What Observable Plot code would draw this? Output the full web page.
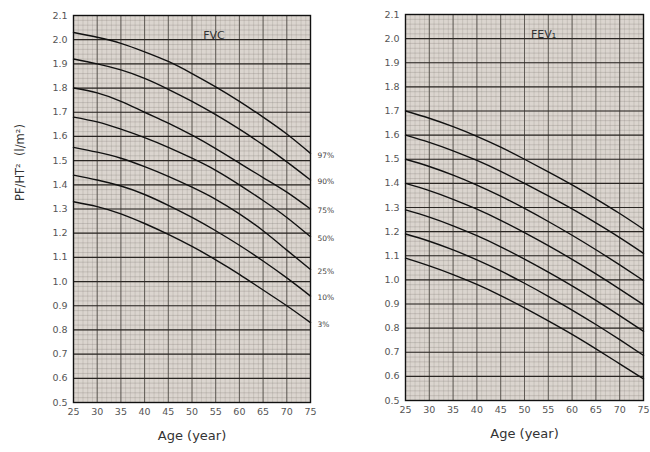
<!DOCTYPE html>
<html>
<head>
<meta charset="utf-8">
<script src="https://cdn.jsdelivr.net/npm/d3@7"></script>
<script src="https://cdn.jsdelivr.net/npm/@observablehq/plot@0.6"></script>
<style>
  body { margin: 0; background: #fff; }
  #wrap { display: flex; width: 650px; height: 452px; }
  svg { font-family: "DejaVu Sans", sans-serif; }
</style>
</head>
<body>
<div id="wrap"></div>
<script>
// ---- data ----
const ages = [25, 30, 35, 40, 45, 50, 55, 60, 65, 70, 75];
const percentiles = ["97%", "90%", "75%", "50%", "25%", "10%", "3%"];

const fvc97 = [2.03, 2.01, 1.985, 1.95, 1.91, 1.86, 1.805, 1.745, 1.68, 1.61, 1.53];
const fvc90 = [1.92, 1.90, 1.875, 1.84, 1.795, 1.745, 1.69, 1.63, 1.565, 1.495, 1.42];
const fvc75 = [1.80, 1.78, 1.745, 1.70, 1.655, 1.605, 1.55, 1.49, 1.43, 1.37, 1.30];
const fvc50 = [1.68, 1.66, 1.63, 1.595, 1.555, 1.51, 1.46, 1.40, 1.335, 1.265, 1.185];
const fvc25 = [1.555, 1.535, 1.51, 1.475, 1.435, 1.39, 1.34, 1.28, 1.21, 1.13, 1.05];
const fvc10 = [1.44, 1.42, 1.395, 1.36, 1.315, 1.265, 1.21, 1.15, 1.085, 1.015, 0.94];
const fvc3  = [1.33, 1.31, 1.28, 1.24, 1.195, 1.145, 1.09, 1.03, 0.965, 0.90, 0.83];

const fev97 = [1.70, 1.67, 1.635, 1.595, 1.55, 1.50, 1.448, 1.394, 1.336, 1.275, 1.21];
const fev90 = [1.60, 1.57, 1.535, 1.495, 1.45, 1.40, 1.348, 1.294, 1.236, 1.175, 1.11];
const fev75 = [1.50, 1.47, 1.434, 1.393, 1.347, 1.296, 1.242, 1.185, 1.125, 1.062, 0.997];
const fev50 = [1.40, 1.37, 1.334, 1.293, 1.247, 1.196, 1.142, 1.085, 1.025, 0.962, 0.897];
const fev25 = [1.29, 1.26, 1.224, 1.183, 1.137, 1.086, 1.032, 0.975, 0.915, 0.852, 0.787];
const fev10 = [1.19, 1.16, 1.124, 1.083, 1.037, 0.986, 0.932, 0.875, 0.815, 0.752, 0.687];
const fev3  = [1.09, 1.058, 1.022, 0.981, 0.935, 0.884, 0.83, 0.774, 0.714, 0.652, 0.59];

const xTicks = [25, 30, 35, 40, 45, 50, 55, 60, 65, 70, 75];
const yTicks = [0.5, 0.6, 0.7, 0.8, 0.9, 1.0, 1.1, 1.2, 1.3, 1.4, 1.5, 1.6, 1.7, 1.8, 1.9, 2.0, 2.1];

const fvcSeries = [fvc97, fvc90, fvc75, fvc50, fvc25, fvc10, fvc3];
const fevSeries = [fev97, fev90, fev75, fev50, fev25, fev10, fev3];

function rows(series) {
  return series.flatMap((vals, i) => vals.map((v, j) => ({age: ages[j], v, p: percentiles[i]})));
}
function ends(series) {
  return series.map((vals, i) => ({age: ages[ages.length - 1], v: vals[vals.length - 1], p: percentiles[i]}));
}

const minorY = d3.range(0.5, 2.1001, 0.02);
const minorX = d3.range(25, 75.001, 1);

function panel({series, title, width, marginLeft, marginRight, marginTop, marginBottom, titleDx, ylabel, showPct}) {
  const data = rows(series);
  const marks = [
    Plot.frame({fill: "#dbd5cf"}),
    Plot.ruleY(minorY, {stroke: "#7d7670", strokeOpacity: 0.45, strokeWidth: 0.6}),
    Plot.ruleX(minorX, {stroke: "#7d7670", strokeOpacity: 0.35, strokeWidth: 0.6}),
    Plot.ruleX(xTicks, {stroke: "#55504b", strokeWidth: 0.9}),
    Plot.ruleY(yTicks, {stroke: "#2a2623", strokeWidth: 1.2}),
    Plot.line(data, {x: "age", y: "v", z: "p", stroke: "#111", strokeWidth: 1.4, curve: "natural"}),
    Plot.text([title], {frameAnchor: "top", dx: titleDx, dy: 16, fontSize: 11, fill: "#333"}),
    Plot.frame({stroke: "#111", strokeWidth: 1.4}),
    Plot.axisX(xTicks, {tickSize: 0, tickPadding: 6, fontSize: 9.5, fill: "#555", label: null}),
    Plot.axisY(yTicks, {tickSize: 0, tickPadding: 6, fontSize: 9.5, fill: "#555", tickFormat: d3.format(".1f"), label: null}),
    Plot.text(["Age (year)"], {frameAnchor: "bottom", dy: 37, fontSize: 13, fill: "#333"})
  ];
  if (ylabel) {
    marks.push(Plot.text([ylabel], {frameAnchor: "left", dx: -53, dy: -8, rotate: -90, fontSize: 11.5, fill: "#333"}));
  }
  if (showPct) {
    marks.push(Plot.text(ends(series), {x: "age", y: "v", text: "p", textAnchor: "start", dx: 7, dy: 2, fontSize: 7.5, fill: "#444"}));
  }
  return Plot.plot({
    width, height: 452,
    marginLeft, marginRight, marginTop, marginBottom,
    x: {domain: [25, 75]},
    y: {domain: [0.5, 2.1]},
    style: {fontFamily: "DejaVu Sans, sans-serif", color: "#333", background: "transparent", overflow: "visible"},
    marks
  });
}

const left = panel({series: fvcSeries, title: "FVC", width: 340, marginLeft: 73, marginRight: 30,
  marginTop: 15, marginBottom: 50, titleDx: 22, ylabel: "PF/HT²  (l/m²)", showPct: true});
const right = panel({series: fevSeries, title: "FEV₁", width: 310, marginLeft: 65, marginRight: 7,
  marginTop: 14, marginBottom: 52, titleDx: 19, ylabel: null, showPct: false});

document.getElementById("wrap").append(left, right);
</script>
</body>
</html>
